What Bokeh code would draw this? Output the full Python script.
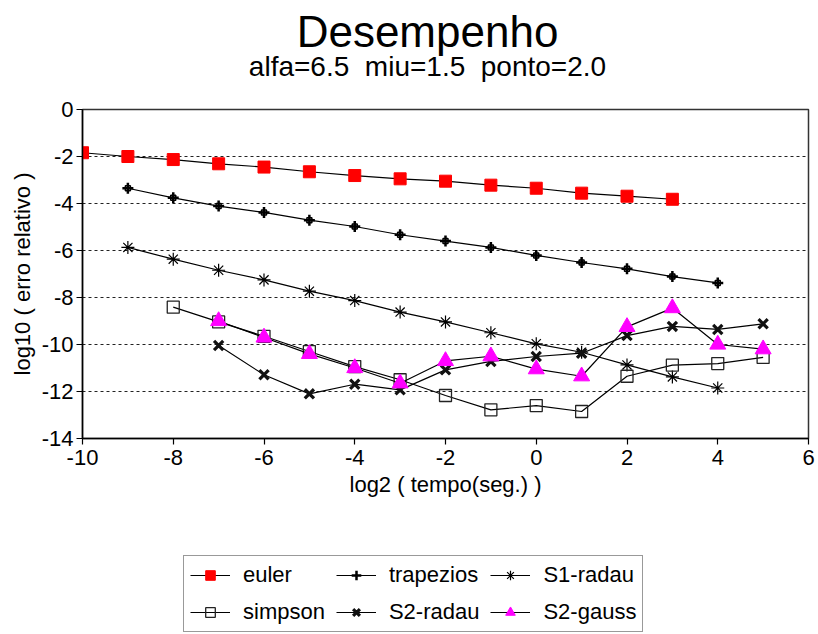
from bokeh.plotting import figure
from bokeh.layouts import column
from bokeh.models import Range1d, Label, Legend, LegendItem, FixedTicker
from bokeh.embed import file_html
from bokeh.resources import INLINE

FONT = "Liberation Sans"
NB = "\u00a0"

title_text = "Desempenho"
subtitle_text = "alfa=6.5" + NB * 2 + "miu=1.5" + NB * 2 + "ponto=2.0"
x_label = "log2 ( tempo(seg.) )"
y_label = "log10 ( erro relativo )"

x_euler = [-10, -9, -8, -7, -6, -5, -4, -3, -2, -1, 0, 1, 2, 3]
euler = [-1.84, -2.0, -2.13, -2.31, -2.45, -2.65, -2.81, -2.95, -3.05, -3.22, -3.35, -3.56, -3.69, -3.82]

x_trap = [-9, -8, -7, -6, -5, -4, -3, -2, -1, 0, 1, 2, 3, 4]
trapezios = [-3.35, -3.76, -4.11, -4.38, -4.71, -4.98, -5.33, -5.6, -5.87, -6.21, -6.51, -6.78, -7.11, -7.38]

x_s1r = [-9, -8, -7, -6, -5, -4, -3, -2, -1, 0, 1, 2, 3, 4]
s1_radau = [-5.87, -6.37, -6.84, -7.25, -7.73, -8.13, -8.62, -9.04, -9.5, -9.97, -10.33, -10.87, -11.38, -11.85]

x_simp = [-8, -7, -6, -5, -4, -3, -2, -1, 0, 1, 2, 3, 4, 5]
simpson = [-8.41, -9.04, -9.65, -10.3, -10.94, -11.5, -12.17, -12.78, -12.6, -12.85, -11.35, -10.88, -10.81, -10.55]

x_s2r = [-7, -6, -5, -4, -3, -2, -1, 0, 1, 2, 3, 4, 5]
s2_radau = [-10.04, -11.29, -12.1, -11.69, -11.93, -11.08, -10.72, -10.51, -10.37, -9.62, -9.23, -9.36, -9.12]

x_s2g = [-7, -6, -5, -4, -3, -2, -1, 0, 1, 2, 3, 4, 5]
s2_gauss = [-9.0, -9.7, -10.4, -11.0, -11.65, -10.7, -10.5, -11.05, -11.35, -9.25, -8.45, -10.0, -10.2]

x_ticks = [-10, -8, -6, -4, -2, 0, 2, 4, 6]
y_ticks = [0, -2, -4, -6, -8, -10, -12, -14]
grid_ticks = [-2, -4, -6, -8, -10, -12]

series = [
    ("euler", x_euler, euler),
    ("trapezios", x_trap, trapezios),
    ("S1-radau", x_s1r, s1_radau),
    ("simpson", x_simp, simpson),
    ("S2-radau", x_s2r, s2_radau),
    ("S2-gauss", x_s2g, s2_gauss),
]

marker_styles = {
    "euler": dict(marker="square", size=12, fill_color="#ff0000", line_color="#ff0000"),
    "trapezios": dict(marker="cross", size=11, line_color="black", line_width=2.5),
    "S1-radau": dict(marker="asterisk", size=13, line_color="black", line_width=1.2),
    "simpson": dict(marker="square", size=12, fill_color=None, line_color="#222222", line_width=1.3),
    "S2-radau": dict(marker="x", size=13, line_color="#111111", line_width=3.2),
    "S2-gauss": dict(marker="triangle", size=16, fill_color="#ff00ff", line_color="#ff00ff"),
}


def blank_strip(h):
    f = figure(width=818, height=h, output_backend="svg", toolbar_location=None,
               title=None, x_range=Range1d(0, 1), y_range=Range1d(0, 1),
               min_border_left=0, min_border_right=0, min_border_top=0, min_border_bottom=0)
    f.axis.visible = False
    f.grid.visible = False
    f.outline_line_color = None
    f.background_fill_color = "white"
    f.border_fill_color = "white"
    return f


# ---- title strip ----
TITLE_H = 86
t = blank_strip(TITLE_H)
t.add_layout(Label(x=345, y=TITLE_H - 44 + 13, x_units="screen", y_units="screen",
                   text=title_text, text_align="center", text_baseline="alphabetic",
                   text_font=FONT, text_font_size="44px", text_color="black"))
t.add_layout(Label(x=345, y=TITLE_H - 76 + 10, x_units="screen", y_units="screen",
                   text=subtitle_text, text_align="center", text_baseline="alphabetic",
                   text_font=FONT, text_font_size="28px", text_color="black"))

# ---- main chart ----
MAIN_H = 454
p = figure(width=818, height=MAIN_H, output_backend="svg", toolbar_location=None,
           title=None,
           x_range=Range1d(-10, 6), y_range=Range1d(-14, 0),
           min_border_left=82, min_border_right=10, min_border_top=109 - TITLE_H,
           min_border_bottom=TITLE_H + MAIN_H - 438)
p.background_fill_color = "white"
p.border_fill_color = "white"
p.outline_line_color = "#333333"
p.outline_line_width = 1.5

p.xgrid.visible = False
p.ygrid.ticker = FixedTicker(ticks=grid_ticks)
p.ygrid.grid_line_color = "#222222"
p.ygrid.grid_line_dash = "3 3"
p.ygrid.grid_line_width = 1

for ax, ticks in ((p.xaxis[0], x_ticks), (p.yaxis[0], y_ticks)):
    ax.ticker = FixedTicker(ticks=ticks)
    ax.major_label_overrides = {tk: str(tk) for tk in ticks}
    ax.axis_line_color = "black"
    ax.axis_line_width = 1.5
    ax.major_tick_line_color = "black"
    ax.major_tick_line_width = 1.2
    ax.major_tick_out = 6
    ax.major_tick_in = 0
    ax.minor_tick_line_color = None
    ax.major_label_text_font = FONT
    ax.major_label_text_font_size = "22px"
    ax.major_label_text_color = "black"
    ax.axis_label_text_font = FONT
    ax.axis_label_text_font_size = "22px"
    ax.axis_label_text_font_style = "normal"
    ax.axis_label_text_color = "black"

p.xaxis.axis_label = x_label
p.yaxis.axis_label = y_label
p.xaxis.major_label_standoff = 5
p.xaxis.axis_label_standoff = 4
p.yaxis.major_label_standoff = 3
p.yaxis.axis_label_standoff = 4

for name, xs, ys in series:
    p.line(xs, ys, line_color="black", line_width=1.2)
    if name == "trapezios":
        p.scatter(xs, ys, marker="square", size=5, fill_color=None, line_color="black", line_width=1.5)
    p.scatter(xs, ys, **marker_styles[name])

# ---- legend strip ----
LEG_H = 634 - TITLE_H - MAIN_H
q = blank_strip(LEG_H)
items = []
for name, xs, ys in series:
    rl = q.line([-5, -4], [-5, -4], line_color="black", line_width=1.2)
    rm = q.scatter([-5], [-5], **marker_styles[name])
    items.append(LegendItem(label=name, renderers=[rl, rm]))

legend = Legend(items=items, orientation="horizontal", ncols=3,
                location=(101, 2), margin=0, padding=6,
                glyph_width=40, glyph_height=24, label_height=24,
                label_standoff=13, spacing=11,
                label_text_font=FONT, label_text_font_size="22px",
                label_text_color="black",
                border_line_color="#333333", border_line_width=1,
                background_fill_color="white", background_fill_alpha=1)
q.add_layout(legend, "center")

layout = column(t, p, q, spacing=0)
open("out.html", "w").write(file_html(layout, INLINE))
